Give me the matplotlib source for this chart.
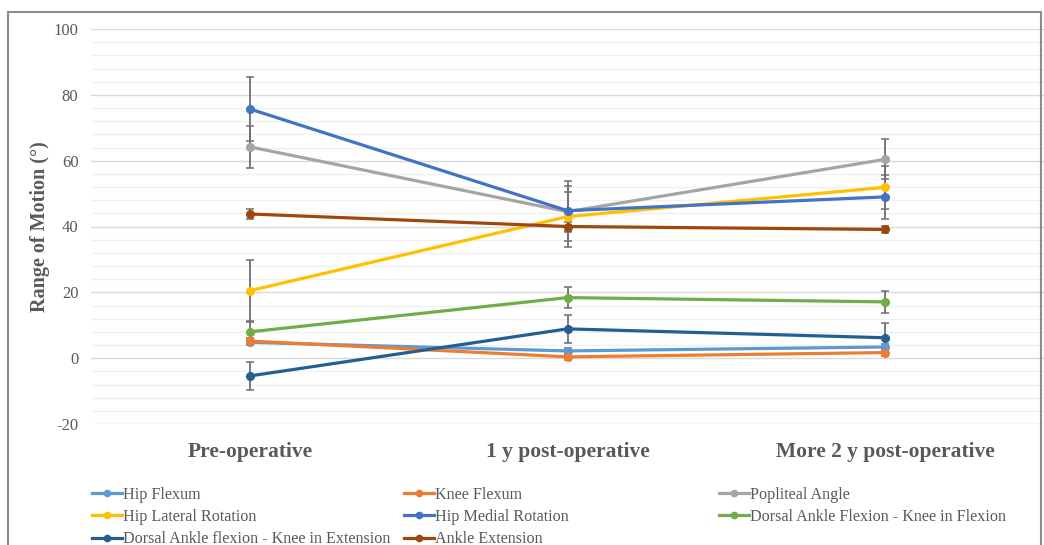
import numpy as np
import matplotlib.pyplot as plt
from matplotlib.lines import Line2D
from matplotlib.patches import Rectangle

# datos
categorias = ['Pre-operative', '1 y post-operative', 'More 2 y post-operative']

hip_flexum = [4.8, 2.2, 3.4]
hip_flexum_err = [0.8, 0.8, 0.8]
knee_flexum = [5.2, 0.4, 1.7]
knee_flexum_err = [1.0, 1.0, 1.0]
popliteal = [64.2, 44.5, 60.4]
popliteal_err = [6.3, 6.1, 6.1]
hip_lateral = [20.5, 43.0, 51.9]
hip_lateral_err = [9.4, 9.2, 6.5]
hip_medial = [75.7, 44.8, 49.0]
hip_medial_err = [9.8, 9.1, 6.6]
dorsal_flexion = [8.0, 18.4, 17.1]
dorsal_flexion_err = [3.2, 3.3, 3.3]
dorsal_extension = [-5.4, 8.9, 6.2]
dorsal_extension_err = [4.2, 4.3, 4.5]
ankle_ext = [43.8, 40.0, 39.1]
ankle_ext_err = [1.5, 1.5, 1.2]

series = [
    ('Hip Flexum', hip_flexum, hip_flexum_err, '#5B9BD5'),
    ('Knee Flexum', knee_flexum, knee_flexum_err, '#ED7D31'),
    ('Popliteal Angle', popliteal, popliteal_err, '#A5A5A5'),
    ('Hip Lateral Rotation', hip_lateral, hip_lateral_err, '#FFC000'),
    ('Hip Medial Rotation', hip_medial, hip_medial_err, '#4472C4'),
    ('Dorsal Ankle Flexion - Knee in Flexion', dorsal_flexion, dorsal_flexion_err, '#70AD47'),
    ('Dorsal Ankle flexion - Knee in Extension', dorsal_extension, dorsal_extension_err, '#255E91'),
    ('Ankle Extension', ankle_ext, ankle_ext_err, '#9E480E'),
]

plt.rcParams['font.family'] = ['Liberation Serif', 'DejaVu Serif']
plt.rcParams['axes.unicode_minus'] = False
gris = '#595959'

fig = plt.figure(figsize=(10.44, 5.45), dpi=100)
ax = fig.add_axes([91 / 1044, 1 - 424 / 545, 1 - 91 / 1044, (424 - 29) / 545])

x = np.arange(len(categorias))
handles = []
for nombre, vals, err, color in series:
    ax.errorbar(x, vals, yerr=err, fmt='none', ecolor='#6F6F6F', elinewidth=1.3,
                capsize=3.2, capthick=1.1, zorder=3)
    ax.plot(x, vals, color=color, lw=2.3, marker='o', ms=5.5, zorder=4)
    handles.append(Line2D([], [], color=color, lw=2.3, marker='o', ms=4.5))

ax.set_xlim(-0.5, 2.5)
ax.set_ylim(-20, 100)
ax.set_yticks(np.arange(-20, 101, 20))
ax.set_yticks(np.arange(-20, 101, 4), minor=True)
ax.grid(True, which='major', axis='y', color='#D9D9D9', lw=1.0, zorder=0)
ax.grid(True, which='minor', axis='y', color='#F0F0F0', lw=1.0, zorder=0)
ax.set_xticks(x)
ax.set_xticklabels(categorias, fontsize=15.5, fontweight='bold', color=gris)
ax.tick_params(axis='x', length=0, pad=13)
ax.tick_params(axis='y', which='both', length=0, pad=9, labelsize=12, labelcolor=gris)
for s in ax.spines.values():
    s.set_visible(False)
ax.set_ylabel('Range of Motion (°)', fontsize=14.5, fontweight='bold', color=gris)
ax.yaxis.set_label_coords((50 - 91) / 953, 0.5)

# leyenda en tres columnas fijas, como en Excel
columnas = [[0, 3, 6], [1, 4, 7], [2, 5]]
x_col = [92, 404, 719]
for col, xc in zip(columnas, x_col):
    leg = fig.legend([handles[i] for i in col], [series[i][0] for i in col],
                     loc='upper left', bbox_to_anchor=(xc / 1044, 1 - 487 / 545),
                     frameon=False, fontsize=11.6, handlelength=1.85, handletextpad=0.05,
                     labelspacing=0.38, borderaxespad=0, borderpad=0)
    for t in leg.get_texts():
        t.set_color(gris)

# marco del area del grafico
fig.patches.append(Rectangle((8 / 1044, -0.1), 1033 / 1044, 1.1 - 12 / 545,
                             transform=fig.transFigure, fill=False,
                             edgecolor='#8C8C8C', lw=1.5))

fig.savefig('out.png', dpi=100)
